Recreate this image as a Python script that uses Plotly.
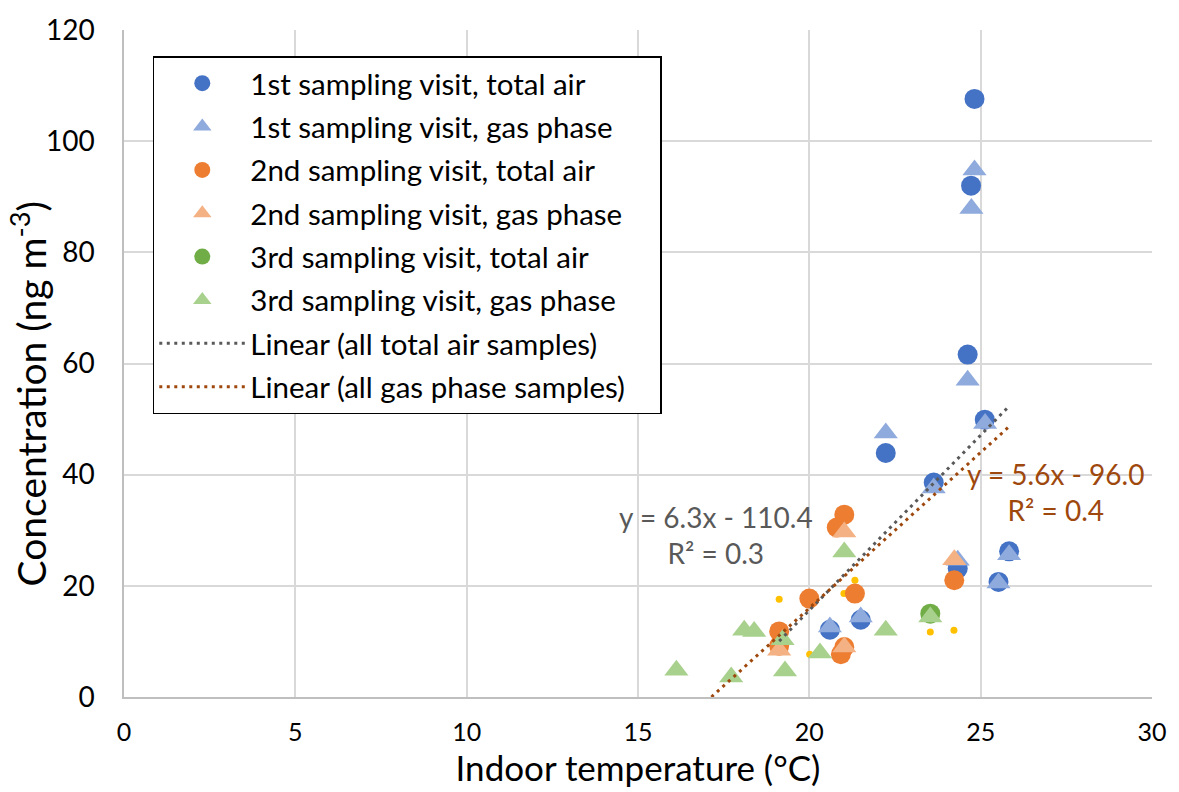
import plotly.graph_objects as go
import numpy as np

# ---- data ----
v1_total_x = [24.82, 24.72, 24.62, 22.23, 23.63, 25.12, 25.83, 25.52, 24.33, 20.60, 21.50]
v1_total_y = [107.6, 92.0, 61.6, 43.9, 38.6, 49.9, 26.2, 20.7, 23.1, 12.1, 13.9]
v1_gas_x = [24.82, 24.73, 24.62, 22.23, 23.63, 25.13, 25.83, 25.52, 24.33, 20.60, 21.50]
v1_gas_y = [94.8, 87.9, 57.0, 47.5, 37.6, 49.2, 25.6, 20.5, 24.6, 12.6, 14.4]
v2_total_x = [21.02, 20.80, 20.00, 21.33, 21.02, 20.92, 19.12, 19.12, 24.23]
v2_total_y = [32.8, 30.5, 17.7, 18.6, 9.0, 7.7, 11.8, 9.2, 21.0]
v2_gas_x = [21.02, 21.02, 19.12, 24.23]
v2_gas_y = [29.7, 9.0, 8.4, 24.7]
v3_total_x = [23.53]
v3_total_y = [15.0]
v3_gas_x = [16.12, 18.10, 18.39, 17.72, 19.22, 19.29, 20.31, 21.02, 22.23, 23.53]
v3_gas_y = [4.8, 12.0, 11.8, 3.6, 10.3, 4.7, 7.9, 26.1, 12.0, 14.4]
small_x = [19.12, 21.33, 21.01, 20.01, 23.53, 24.22]
small_y = [17.6, 21.0, 18.6, 7.7, 11.7, 12.0]

# trend line coefficients as printed on the chart
total_fit = [6.3, -110.4]   # slope, intercept
gas_fit = [5.6, -96.0]

x_ticks = [0, 5, 10, 15, 20, 25, 30]
y_ticks = [0, 20, 40, 60, 80, 100, 120]

FONT = "Lato"
C1, C1L = "#4472C4", "#8FAADC"
C2, C2L = "#ED7D31", "#F4B183"
C3, C3L = "#70AD47", "#A9D18E"
GRAY, BROWN = "#595959", "#9E480E"

fig = go.Figure()

fig.add_trace(go.Scatter(x=small_x, y=small_y, mode="markers", showlegend=False,
                         marker=dict(color="#FFC000", size=7, symbol="circle")))

series = [
    ("1st sampling visit, total air", v1_total_x, v1_total_y, C1, "circle"),
    ("1st sampling visit, gas phase", v1_gas_x, v1_gas_y, C1L, "triangle-up"),
    ("2nd sampling visit, total air", v2_total_x, v2_total_y, C2, "circle"),
    ("2nd sampling visit, gas phase", v2_gas_x, v2_gas_y, C2L, "triangle-up"),
    ("3rd sampling visit, total air", v3_total_x, v3_total_y, C3, "circle"),
    ("3rd sampling visit, gas phase", v3_gas_x, v3_gas_y, C3L, "triangle-up"),
]
for i, (name, xs, ys, col, sym) in enumerate(series):
    fig.add_trace(go.Scatter(x=xs, y=ys, mode="markers", name=name, legendgroup=f"g{i}",
                             marker=dict(color=col, size=20 if sym == "circle" else 21,
                                         symbol=sym, line=dict(width=0))))

all_total_x = v1_total_x + v2_total_x + v3_total_x
all_gas_x = v1_gas_x + v2_gas_x + v3_gas_x

def trend(fit, xs):
    x0, x1 = min(xs), max(xs)
    x0 = max(x0, -fit[1] / fit[0])  # clipped at the axis minimum (y = 0)
    xx = np.array([x0, x1])
    return xx, fit[0] * xx + fit[1]

tx, ty = trend(total_fit, all_total_x)
fig.add_trace(go.Scatter(x=tx, y=ty, mode="lines", name="Linear (all total air samples)",
                         legendgroup="g6",
                         line=dict(color=GRAY, width=3, dash="3px,4.5px")))
gx, gy = trend(gas_fit, all_gas_x)
fig.add_trace(go.Scatter(x=gx, y=gy, mode="lines",
                         name="Linear (all gas phase samples)" + "\u00a0" * 4,
                         legendgroup="g7",
                         line=dict(color=BROWN, width=3, dash="3px,4.5px")))

fig.add_annotation(x=17.27, y=29.2, xref="x", yref="y", showarrow=False,
                   text=f"y = {total_fit[0]}x - {abs(total_fit[1])}<br>R² = 0.3",
                   font=dict(family=FONT, size=28, color=GRAY), align="center")
fig.add_annotation(x=27.19, y=36.95, xref="x", yref="y", showarrow=False,
                   text=f"y = {gas_fit[0]}x - {abs(gas_fit[1]):.1f}<br>R² = 0.4",
                   font=dict(family=FONT, size=28, color=BROWN), align="center")

# y-axis title (placed as a rotated annotation to match the reference position)
fig.add_annotation(x=-0.0929, y=0.4544, xref="paper", yref="paper", showarrow=False,
                   text="Concentration (ng m<sup>-3</sup>)", textangle=-90,
                   font=dict(family=FONT, size=39, color="black"),
                   xanchor="center", yanchor="middle")

fig.update_layout(
    width=1179, height=792,
    margin=dict(l=124, r=22, t=28, b=95),
    paper_bgcolor="white", plot_bgcolor="white",
    font=dict(family=FONT, size=24, color="black"),
    legend=dict(x=0.028, y=0.961, xanchor="left", yanchor="top",
                bgcolor="white", bordercolor="black", borderwidth=1.5,
                font=dict(family=FONT, size=29.5, color="black"),
                tracegroupgap=2, itemwidth=86),
    xaxis=dict(range=[0, 30], tickvals=x_ticks, ticktext=[str(v) for v in x_ticks],
               showgrid=True, gridcolor="#D9D9D9", gridwidth=1.5,
               zeroline=False, showline=True, linecolor="#BFBFBF", linewidth=1.5,
               ticks="", tickfont=dict(size=25, color="black"), ticklabelstandoff=12,
               title=dict(text="Indoor temperature (°C)", font=dict(size=35, color="black"),
                          standoff=9)),
    yaxis=dict(range=[0, 120], tickvals=y_ticks, ticktext=[str(v) for v in y_ticks],
               showgrid=True, gridcolor="#D9D9D9", gridwidth=1.5,
               zeroline=False, showline=True, linecolor="#BFBFBF", linewidth=1.5,
               ticks="", tickfont=dict(size=28, color="black"), ticklabelstandoff=22),
)

fig.write_html("out.html")
